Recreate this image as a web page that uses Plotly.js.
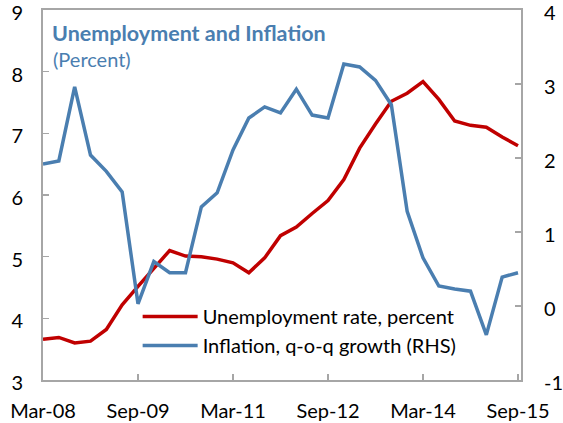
<!DOCTYPE html>
<html>
<head>
<meta charset="utf-8">
<script src="https://cdn.plot.ly/plotly-3.0.1.min.js"></script>
<style>html,body{margin:0;padding:0;background:#fff}#chart{width:563px;height:423px}</style>
</head>
<body>
<div id="chart"></div>
<script>
const quarters = ["Mar-08","Jun-08","Sep-08","Dec-08","Mar-09","Jun-09","Sep-09","Dec-09",
  "Mar-10","Jun-10","Sep-10","Dec-10","Mar-11","Jun-11","Sep-11","Dec-11",
  "Mar-12","Jun-12","Sep-12","Dec-12","Mar-13","Jun-13","Sep-13","Dec-13",
  "Mar-14","Jun-14","Sep-14","Dec-14","Mar-15","Jun-15","Sep-15"];
const unemployment = [3.66,3.69,3.60,3.63,3.82,4.22,4.52,4.82,5.10,5.01,5.00,4.96,4.90,4.74,4.98,5.34,
  5.48,5.70,5.91,6.25,6.76,7.15,7.52,7.65,7.84,7.55,7.20,7.13,7.10,6.94,6.80];
const inflation = [1.92,1.96,2.96,2.04,1.82,1.54,0.03,0.60,0.45,0.45,1.34,1.53,2.11,2.54,2.69,2.61,
  2.93,2.58,2.54,3.27,3.23,3.05,2.72,1.28,0.65,0.27,0.23,0.20,-0.39,0.39,0.45];
const tickLabels = ["Mar-08","Sep-09","Mar-11","Sep-12","Mar-14","Sep-15"];
const leftTicks = [3,4,5,6,7,8,9];
const rightTicks = [-1,0,1,2,3,4];
const rightTickText = ["-1","0","1","2","3","4"];
const seriesNames = ["Unemployment rate, percent","Inflation, q-o-q growth (RHS)"];
const chartTitle = "Unemployment and Inflation";
const chartSubtitle = "(Percent)";

const xIdx = quarters.map((q,i)=>i);
const tickVals = tickLabels.map(t=>quarters.indexOf(t));

const RED = "#C00000", BLUE = "#4A7EB0", GRID = "#A6A6A6";
const FONT = "Lato, 'Open Sans', sans-serif";

const traces = [
  {x:xIdx, y:unemployment, name:seriesNames[0], type:"scatter", mode:"lines",
   line:{color:RED, width:3.5}, yaxis:"y"},
  {x:xIdx, y:inflation, name:seriesNames[1], type:"scatter", mode:"lines",
   line:{color:BLUE, width:3.5}, yaxis:"y2"}
];

const layout = {
  width:563, height:423,
  margin:{l:43, r:42, t:10, b:43},
  paper_bgcolor:"#fff", plot_bgcolor:"#fff",
  font:{family:FONT, size:20, color:"#000"},
  showlegend:true,
  title:{text:"<b>"+chartTitle+"</b>", font:{family:FONT, size:21.5, color:BLUE},
    xref:"paper", yref:"paper", x:0.019, xanchor:"left", y:0.937, yanchor:"middle", automargin:false},
  annotations:[{text:chartSubtitle, xref:"paper", yref:"paper", x:0.019, xanchor:"left",
    y:0.868, yanchor:"middle", showarrow:false, font:{family:FONT, size:20, color:BLUE}, xshift:-1}],
  legend:{x:0.198, xanchor:"left", y:0.224, yanchor:"top", bgcolor:"rgba(0,0,0,0)",
    font:{family:FONT, size:20, color:"#000"}, itemwidth:55, tracegroupgap:0},
  xaxis:{range:[0,30.19], tickvals:tickVals, ticktext:tickLabels, showgrid:false, zeroline:false,
    showline:true, linecolor:GRID, linewidth:2, mirror:true, ticks:"inside", ticklen:6, tickcolor:GRID,
    tickwidth:1.5, ticklabelstandoff:12, tickfont:{family:FONT, size:20}},
  yaxis:{range:[3,9], tickvals:leftTicks, showgrid:false, zeroline:false, showline:true, linecolor:GRID, linewidth:2,
    ticks:"inside", ticklen:6, tickcolor:GRID, tickwidth:1.5, ticklabelstandoff:14, ticklabelshift:3,
    ticklabeloverflow:"allow", tickfont:{family:FONT, size:20}},
  yaxis2:{range:[-1,4], tickvals:rightTicks, ticktext:rightTickText, overlaying:"y", side:"right", showgrid:false,
    zeroline:false, showline:true, linecolor:GRID, linewidth:2, ticks:"inside", ticklen:6, tickcolor:GRID,
    tickwidth:1.5, ticklabelstandoff:17, ticklabelshift:3, ticklabeloverflow:"allow", tickfont:{family:FONT, size:20}}
};

Plotly.newPlot("chart", traces, layout, {displayModeBar:false, staticPlot:true});
</script>
</body>
</html>
